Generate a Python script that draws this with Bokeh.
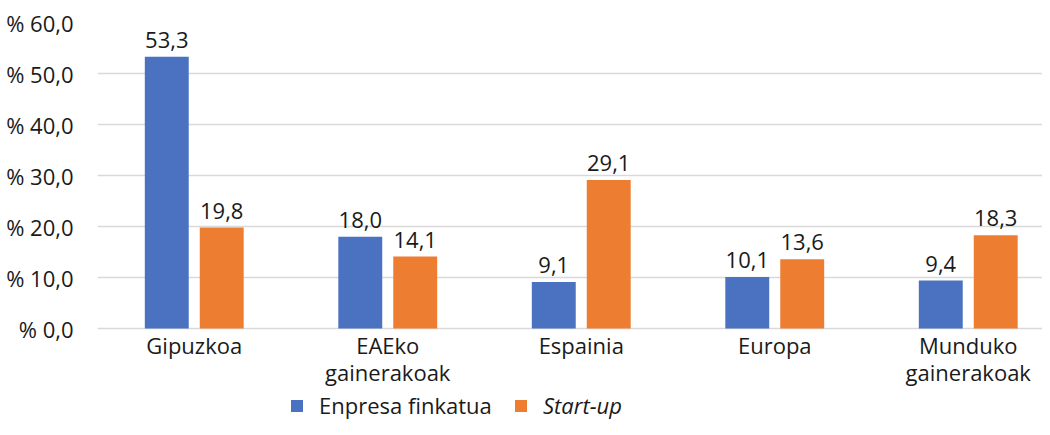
import numpy as np
from bokeh.plotting import figure
from bokeh.models import (ColumnDataSource, Range1d, CustomJSTickFormatter,
                          Legend, LegendItem, FixedTicker)
from bokeh.transform import dodge
from bokeh.embed import file_html
from bokeh.resources import INLINE
from bokeh.core.properties import value

categories = ["Gipuzkoa", "EAEko gainerakoak", "Espainia", "Europa", "Munduko gainerakoak"]
tick_labels = ["Gipuzkoa", "EAEko\ngainerakoak", "Espainia", "Europa", "Munduko\ngainerakoak"]
y_ticks = [0, 10, 20, 30, 40, 50, 60]
enpresa_finkatua = [53.3, 18.0, 9.1, 10.1, 9.4]
start_up = [19.8, 14.1, 29.1, 13.6, 18.3]

FONT = "Open Sans"
TXT = "#1a1a1a"
BLUE = "#4a72c0"
ORANGE = "#ed7d31"
FS = "22px"

src = ColumnDataSource(dict(
    x=np.arange(len(categories)),
    cat=categories,
    tick=tick_labels,
    a=enpresa_finkatua,
    b=start_up,
    alab=[f"{v:.1f}".replace(".", ",") for v in enpresa_finkatua],
    blab=[f"{v:.1f}".replace(".", ",") for v in start_up],
))

# layout (pixels)
W, H = 1042, 419
LEFT, TOP, ZERO = 97, 22, 328
CAT_PX = 193.5                      # width of one category slot
ymax = max(y_ticks)
ymin = -(H - ZERO) * ymax / (ZERO - TOP)
xmin = -0.5
xmax = xmin + (W - LEFT) / CAT_PX

p = figure(width=W, height=H, x_range=Range1d(xmin, xmax),
           y_range=Range1d(ymin, ymax), output_backend="svg", toolbar_location=None,
           min_border_left=LEFT, min_border_right=0, min_border_top=TOP, min_border_bottom=0)
p.outline_line_color = None
p.background_fill_color = "white"
p.border_fill_color = "white"

off = 0.142
w = 0.227
r1 = p.vbar(x=dodge("x", -off), top="a", width=w, source=src,
            fill_color=BLUE, line_color=None)
r2 = p.vbar(x=dodge("x", off), top="b", width=w, source=src,
            fill_color=ORANGE, line_color=None)

for col, lab, o in (("a", "alab", -off), ("b", "blab", off)):
    p.text(x=dodge("x", o), y=col, text=lab, source=src,
           text_align="center", text_baseline="bottom", y_offset=-9,
           text_font=value(FONT), text_font_size=FS, text_color=TXT)

# category labels below the zero line
p.text(x="x", y=0, text="tick", source=src, text_align="center", text_baseline="top",
       y_offset=1, text_line_height=0.9,
       text_font=value(FONT), text_font_size=FS, text_color=TXT)

# axes
p.xaxis.visible = False
p.yaxis.ticker = FixedTicker(ticks=y_ticks)
p.yaxis.formatter = CustomJSTickFormatter(code="return '% ' + tick.toFixed(1).replace('.', ',');")
ax = p.yaxis[0]
ax.axis_line_color = None
ax.major_tick_line_color = None
ax.minor_tick_line_color = None
ax.major_label_text_font = FONT
ax.major_label_text_font_size = FS
ax.major_label_text_color = TXT
ax.major_label_standoff = 18
p.xgrid.grid_line_color = None
p.ygrid.ticker = FixedTicker(ticks=y_ticks)
p.ygrid.grid_line_color = "#d9d9d9"
p.ygrid.grid_line_width = 1.5

leg1 = Legend(items=[LegendItem(label="Enpresa finkatua", renderers=[r1])],
              location=(192, -1), orientation="horizontal")
leg2 = Legend(items=[LegendItem(label="Start-up", renderers=[r2])],
              location=(416, -1), orientation="horizontal")
leg2.label_text_font_style = "italic"
for lg in (leg1, leg2):
    lg.padding = 0
    lg.margin = 0
    lg.spacing = 0
    lg.glyph_width = 15
    lg.glyph_height = 15
    lg.label_standoff = 15
    lg.label_height = 24
    lg.label_text_font = FONT
    lg.label_text_font_size = FS
    lg.label_text_color = TXT
    lg.border_line_alpha = 0
    lg.background_fill_alpha = 0
    p.add_layout(lg, "center")

open("out.html", "w").write(file_html(p, INLINE))
